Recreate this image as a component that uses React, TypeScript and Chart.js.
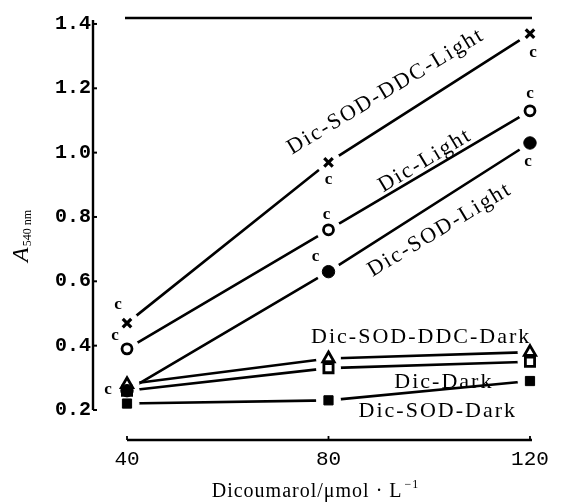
import React, { useEffect, useRef } from "react";
import { Chart, registerables } from "chart.js";

Chart.register(...registerables);

// ---- data ----
const concentrations = [40, 80, 120];
const dicSodDdcLight = [0.47, 0.97, 1.37];
const dicLight = [0.39, 0.76, 1.13];
const dicSodLight = [0.26, 0.63, 1.03];
const dicSodDdcDark = [0.28, 0.36, 0.38];
const dicDark = [0.26, 0.33, 0.35];
const dicSodDark = [0.22, 0.23, 0.29];

const yTickValues = [0.2, 0.4, 0.6, 0.8, 1.0, 1.2, 1.4];
const xTickValues = [40, 80, 120];

const seriesNames = [
  "Dic-SOD-DDC-Light",
  "Dic-Light",
  "Dic-SOD-Light",
  "Dic-SOD-DDC-Dark",
  "Dic-Dark",
  "Dic-SOD-Dark",
];
const seriesValues = [dicSodDdcLight, dicLight, dicSodLight, dicSodDdcDark, dicDark, dicSodDark];

// ---- styles ----
const markerStyles = [
  { pointStyle: "crossRot", radius: 6, borderWidth: 3.2, fill: "#000" },
  { pointStyle: "circle", radius: 5, borderWidth: 2.8, fill: "#fff" },
  { pointStyle: "circle", radius: 6.2, borderWidth: 1, fill: "#000" },
  { pointStyle: "triangle", radius: 6.5, borderWidth: 2.8, fill: "#fff" },
  { pointStyle: "rect", radius: 6.5, borderWidth: 2.8, fill: "#fff" },
  { pointStyle: "rect", radius: 6.5, borderWidth: 1, fill: "#000" },
];

// series label anchors (data coordinates) and rotation in degrees
const labelAnchors = [
  { x: 91.4, y: 1.19, angle: -31 },
  { x: 99.2, y: 0.975, angle: -31 },
  { x: 102.1, y: 0.76, angle: -31 },
  { x: 98.4, y: 0.427, angle: 0 },
  { x: 102.9, y: 0.287, angle: 0 },
  { x: 101.7, y: 0.197, angle: 0 },
];

// significance letters: series index, point index, pixel offset
const sigLetters = [
  { s: 0, i: 0, dx: -9, dy: -19 },
  { s: 1, i: 0, dx: -12, dy: -13 },
  { s: 2, i: 0, dx: -19, dy: -1 },
  { s: 0, i: 1, dx: 0, dy: 17 },
  { s: 1, i: 1, dx: -2, dy: -15 },
  { s: 2, i: 1, dx: -13, dy: -15 },
  { s: 0, i: 2, dx: 3, dy: 19 },
  { s: 1, i: 2, dx: 0, dy: -17 },
  { s: 2, i: 2, dx: -2, dy: 19 },
];

const SERIF = "'Liberation Serif', 'Times New Roman', serif";
const MONO = "'Liberation Mono', 'Courier New', monospace";

const decorPlugin = {
  id: "decor",
  beforeDatasetsDraw(chart: any) {
    const { ctx, chartArea, scales } = chart;
    const x = scales.x;
    const y = scales.y;
    ctx.save();
    ctx.strokeStyle = "#000";
    ctx.lineWidth = 2.4;
    ctx.lineCap = "butt";
    const ax = chartArea.left;
    const y0 = y.getPixelForValue(yTickValues[0]);
    ctx.beginPath();
    ctx.moveTo(ax, chartArea.top + 2);
    ctx.lineTo(ax, y0);
    ctx.stroke();
    ctx.lineWidth = 2;
    for (const v of yTickValues) {
      const py = y.getPixelForValue(v);
      ctx.beginPath();
      ctx.moveTo(ax, py);
      ctx.lineTo(ax + 4, py);
      ctx.stroke();
    }
    // top frame line
    ctx.lineWidth = 2.4;
    ctx.beginPath();
    ctx.moveTo(x.getPixelForValue(xTickValues[0]) - 2, chartArea.top);
    ctx.lineTo(chartArea.right, chartArea.top);
    ctx.stroke();
    // x axis
    const by = chartArea.bottom;
    ctx.beginPath();
    ctx.moveTo(x.getPixelForValue(xTickValues[0]), by);
    ctx.lineTo(x.getPixelForValue(xTickValues[xTickValues.length - 1]) + 2, by);
    ctx.stroke();
    ctx.lineWidth = 1.8;
    for (const v of xTickValues) {
      const px = x.getPixelForValue(v);
      ctx.beginPath();
      ctx.moveTo(px, by);
      ctx.lineTo(px, by - 4);
      ctx.stroke();
    }
    ctx.restore();
  },
  afterDatasetsDraw(chart: any) {
    const { ctx, scales } = chart;
    const x = scales.x;
    const y = scales.y;
    ctx.save();
    ctx.fillStyle = "#000";
    // series labels
    ctx.font = `22px ${SERIF}`;
    (ctx as any).letterSpacing = "2px";
    ctx.textAlign = "center";
    ctx.textBaseline = "middle";
    seriesNames.forEach((name, k) => {
      const a = labelAnchors[k];
      ctx.save();
      ctx.translate(x.getPixelForValue(a.x), y.getPixelForValue(a.y));
      ctx.rotate((a.angle * Math.PI) / 180);
      ctx.fillText(name, 0, 0);
      ctx.restore();
    });
    (ctx as any).letterSpacing = "0px";
    // significance letters
    ctx.font = `bold 17px ${SERIF}`;
    for (const c of sigLetters) {
      const px = x.getPixelForValue(concentrations[c.i]) + c.dx;
      const py = y.getPixelForValue(seriesValues[c.s][c.i]) + c.dy;
      ctx.fillText("c", px, py);
    }
    ctx.restore();
  },
  afterDraw(chart: any) {
    const { ctx, chartArea } = chart;
    ctx.save();
    ctx.fillStyle = "#000";
    ctx.textBaseline = "alphabetic";
    ctx.textAlign = "left";
    // x title
    const main = "Dicoumarol/μmol · L";
    const sup = "−1";
    ctx.font = `20px ${SERIF}`;
    (ctx as any).letterSpacing = "1px";
    const wMain = ctx.measureText(main).width;
    ctx.font = `12px ${SERIF}`;
    const wSup = ctx.measureText(sup).width;
    const cx = (chartArea.left + chartArea.right) / 2 + 3;
    const start = cx - (wMain + wSup + 2) / 2;
    const base = chartArea.bottom + 57;
    ctx.font = `20px ${SERIF}`;
    ctx.fillText(main, start, base);
    ctx.font = `12px ${SERIF}`;
    ctx.fillText(sup, start + wMain + 2, base - 9);
    (ctx as any).letterSpacing = "0px";
    // y title
    ctx.save();
    ctx.translate(28, 262);
    ctx.rotate(-Math.PI / 2);
    ctx.font = `italic 24px ${SERIF}`;
    ctx.fillText("A", 0, 0);
    const wA = ctx.measureText("A").width;
    ctx.font = `12px ${SERIF}`;
    ctx.fillText("540 nm", wA + 1, 3);
    ctx.restore();
    ctx.restore();
  },
};

export default function App() {
  const canvasRef = useRef<HTMLCanvasElement | null>(null);

  useEffect(() => {
    document.body.style.margin = "0";
    const canvas = canvasRef.current;
    if (!canvas) return;

    const points = (vals: number[]) => concentrations.map((c, i) => ({ x: c, y: vals[i] }));

    const lineSets = seriesValues.map((vals, k) => ({
      label: seriesNames[k] + " line",
      data: points(vals),
      borderColor: "#000",
      borderWidth: 2.6,
      pointRadius: 0,
      showLine: true,
      fill: false,
      order: 3,
    }));
    const haloSets = seriesValues.map((vals, k) => ({
      label: seriesNames[k] + " halo",
      data: points(vals),
      showLine: false,
      pointStyle: "circle",
      pointRadius: 12,
      pointBackgroundColor: "#fff",
      pointBorderColor: "#fff",
      pointBorderWidth: 1,
      order: 2,
    }));
    const markerSets = seriesValues.map((vals, k) => ({
      label: seriesNames[k],
      data: points(vals),
      showLine: false,
      pointStyle: markerStyles[k].pointStyle,
      pointRadius: markerStyles[k].radius,
      pointBackgroundColor: markerStyles[k].fill,
      pointBorderColor: "#000",
      pointBorderWidth: markerStyles[k].borderWidth,
      order: 1,
    }));

    const chart = new Chart(canvas, {
      type: "scatter",
      data: { datasets: [...lineSets, ...haloSets, ...markerSets] as any },
      options: {
        animation: false,
        responsive: false,
        devicePixelRatio: 1,
        clip: false as any,
        layout: { padding: { top: 18, right: 30, bottom: 0, left: 0 } },
        plugins: { legend: { display: false }, tooltip: { enabled: false } },
        scales: {
          x: {
            type: "linear",
            min: 33.25,
            max: 120.4,
            grid: { display: false, drawTicks: false },
            border: { display: false },
            afterBuildTicks: (scale: any) => {
              scale.ticks = xTickValues.map((v) => ({ value: v }));
            },
            afterFit: (scale: any) => {
              scale.height = 63;
            },
            ticks: {
              color: "#000",
              padding: 7,
              font: { family: MONO, size: 21 },
              callback: (v: any) => String(v),
            },
          },
          y: {
            type: "linear",
            min: 0.1067,
            max: 1.4185,
            grid: { display: false, drawTicks: false },
            border: { display: false },
            afterBuildTicks: (scale: any) => {
              scale.ticks = yTickValues.map((v) => ({ value: v }));
            },
            afterFit: (scale: any) => {
              scale.width = 93;
            },
            ticks: {
              color: "#000",
              padding: 2,
              font: { family: MONO, size: 20, weight: "bold" },
              callback: (v: any) => Number(v).toFixed(1),
            },
          },
        },
      },
      plugins: [decorPlugin],
    });

    return () => chart.destroy();
  }, []);

  return (
    <div style={{ width: 562, height: 503, background: "#fff" }}>
      <canvas ref={canvasRef} width={562} height={503} style={{ display: "block" }} />
    </div>
  );
}
